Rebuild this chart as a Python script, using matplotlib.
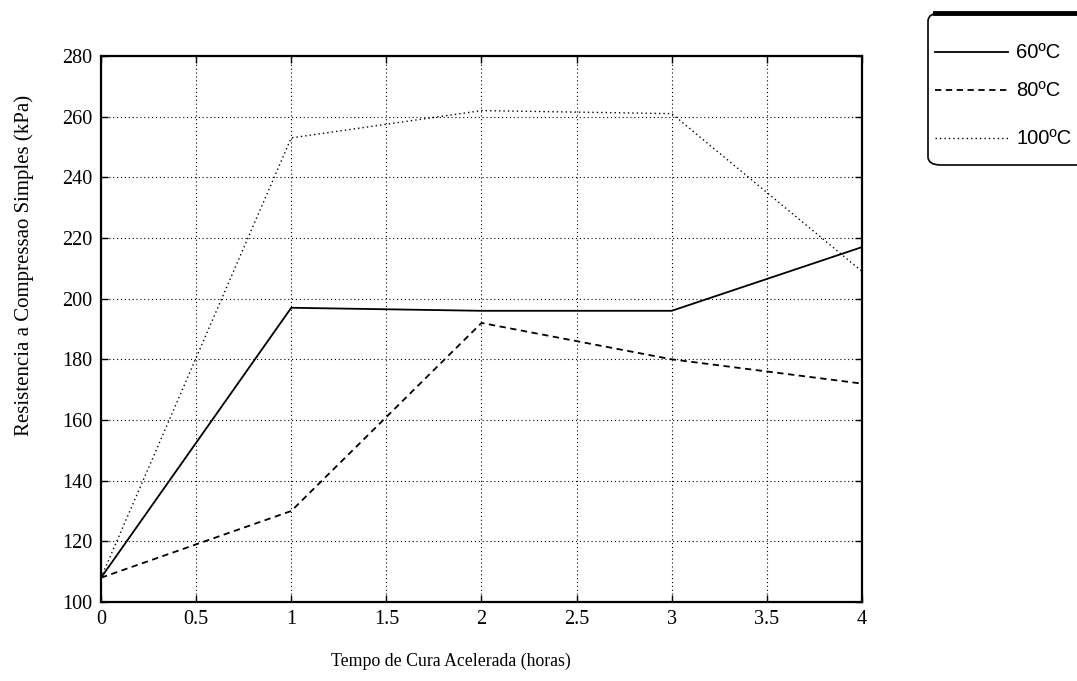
import matplotlib
matplotlib.use("Agg")
import matplotlib.pyplot as plt
from matplotlib.patches import FancyBboxPatch
from matplotlib.lines import Line2D

# Data
tempo = [0, 1, 2, 3, 4]
r60 = [108, 197, 196, 196, 217]
r80 = [108, 130, 192, 180, 172]
r100 = [108, 253, 262, 261, 209]
series_labels = ["60ºC", "80ºC", "100ºC"]
xticks = [0, 0.5, 1, 1.5, 2, 2.5, 3, 3.5, 4]
xticklabels = ["0", "0.5", "1", "1.5", "2", "2.5", "3", "3.5", "4"]
yticks = [100, 120, 140, 160, 180, 200, 220, 240, 260, 280]
xlabel = "Tempo de Cura Acelerada (horas)"
ylabel = "Resistencia a Compressao Simples (kPa)"

W, H = 1077, 681
fig = plt.figure(figsize=(W / 100, H / 100), dpi=100)
serif = ["Liberation Serif", "DejaVu Serif"]

left, right, top, bottom = 101, 862, 56, 602
ax = fig.add_axes([left / W, 1 - bottom / H, (right - left) / W, (bottom - top) / H])

styles = [dict(ls="-", lw=1.3), dict(ls=(0, (3.5, 2.5)), lw=1.3), dict(ls=(0, (1, 2.2)), lw=1.0)]
for y, st in zip([r60, r80, r100], styles):
    ax.plot(tempo, y, color="black", **st)

ax.set_xlim(0, 4)
ax.set_ylim(100, 280)
ax.set_xticks(xticks)
ax.set_xticklabels(xticklabels)
ax.set_yticks(yticks)
ax.grid(True, color="black", ls=(0, (1, 2.5)), lw=0.8)
ax.tick_params(direction="in", length=5, width=1, top=True, right=True, labelsize=14.5, pad=6)
for lab in ax.get_xticklabels() + ax.get_yticklabels():
    lab.set_family(serif)
for s in ax.spines.values():
    s.set_linewidth(1.6)

fig.text(451 / W, 1 - 661 / H, xlabel, ha="center", va="center", fontsize=12.8, family=serif)
fig.text(24 / W, 1 - 265 / H, ylabel, ha="center", va="center", rotation=90, fontsize=15, family=serif)

# Legend (drawn manually to match the original box)
lx0, ly0, lx1, ly1 = 928, 13, 1095, 165
box = FancyBboxPatch((lx0 / W, 1 - ly1 / H), (lx1 - lx0) / W, (ly1 - ly0) / H,
                     boxstyle="round,pad=0,rounding_size=0.012", transform=fig.transFigure,
                     fill=False, lw=1.2, ec="black")
fig.add_artist(box)
fig.add_artist(Line2D([935 / W, 1077 / W], [1 - 13 / H, 1 - 13 / H], transform=fig.transFigure,
                      color="black", lw=3.5))
entry_y = [52, 90, 138]
for yy, lab, st in zip(entry_y, series_labels, styles):
    fig.add_artist(Line2D([935 / W, 1008 / W], [1 - yy / H, 1 - yy / H], transform=fig.transFigure,
                          color="black", **st))
    fig.text(1016 / W, 1 - yy / H, lab, ha="left", va="center", fontsize=14.5,
             family=["Liberation Sans Narrow", "Liberation Sans", "DejaVu Sans"])

fig.savefig("out.png", dpi=100)
